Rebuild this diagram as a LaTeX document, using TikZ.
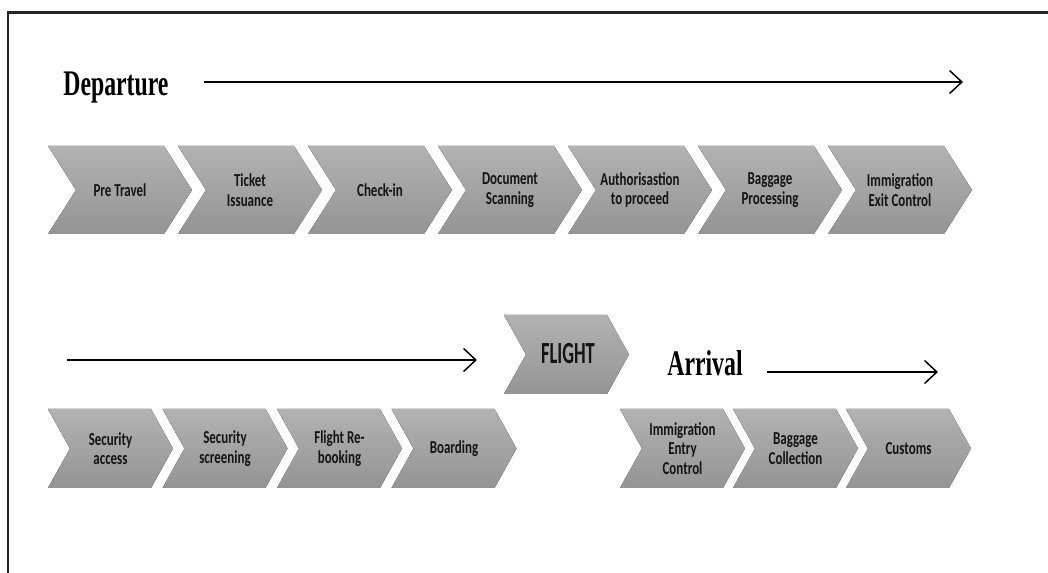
\documentclass[tikz,border=0pt]{standalone}
\usepackage{fontspec}
\usetikzlibrary{arrows.meta}

\definecolor{chevtop}{RGB}{178,178,178}
\definecolor{chevbot}{RGB}{148,148,148}
\definecolor{inkgray}{RGB}{20,20,20}

\newfontfamily\chevfont[FakeStretch=0.71]{Carlito}
\newfontfamily\flightfont[FakeStretch=0.6]{Carlito}
\newfontfamily\headfont[FakeStretch=0.66]{Liberation Serif}

\begin{document}
\begin{tikzpicture}[x=0.02cm, y=-0.02cm,
	chevron/.style={top color=chevtop, bottom color=chevbot, draw=none},
	steptext/.style={font=\chevfont\bfseries\fontsize{10.4}{11}\selectfont, text=inkgray, align=center, inner sep=0pt},
	heading/.style={font=\headfont\bfseries\fontsize{20.5}{24}\selectfont, text=black, anchor=base west, inner sep=0pt},
	timeline/.style={line width=0.85pt, -{Straight Barb[length=7pt,width=13pt]}},
	frame/.style={line width=1.3pt, draw=black!85}]

% parameters %{{{2

	\def\topy{146}
	\def\toph{88}
	\def\topw{144}
	\def\topd{28}
	\def\topstep{130}

	\def\boty{409}
	\def\both{79}
	\def\botw{125}
	\def\botd{22}
	\def\botstep{114.5}
	\def\arrstep{113}

% frame %{{{2

	\useasboundingbox (0,0) rectangle (1048,573);
	\draw[frame] (8,573) -- (8,12.5) -- (1048,12.5);

% departure, first row %{{{2

	\foreach \txt [count=\i] in {Pre Travel, {Ticket\\Issuance}, Check-in, {Document\\Scanning}, {Authorisastion\\to proceed}, {Baggage\\Processing}, {Immigration\\Exit Control}} {
		\pgfmathsetmacro{\x}{48+(\i-1)*\topstep}
		\fill[chevron] (\x,\topy) -- ++(\topw-\topd,0) -- ++(\topd,\toph/2) -- ++(-\topd,\toph/2)
			-- ++(-\topw+\topd,0) -- ++(\topd,-\toph/2) -- cycle;
		\node[steptext] (D\i) at (\x+\topw/2,\topy+\toph/2) {\txt};
	}

% departure, second row %{{{2

	\foreach \txt [count=\i] in {{Security\\access}, {Security\\screening}, {Flight Re-\\booking}, Boarding} {
		\pgfmathsetmacro{\x}{48+(\i-1)*\botstep}
		\fill[chevron] (\x,\boty) -- ++(\botw-\botd,0) -- ++(\botd,\both/2) -- ++(-\botd,\both/2)
			-- ++(-\botw+\botd,0) -- ++(\botd,-\both/2) -- cycle;
		\node[steptext] (S\i) at (\x+\botw/2,\boty+\both/2) {\txt};
	}

% flight %{{{2

	\fill[chevron] (504,315) -- ++(\botw-\botd,0) -- ++(\botd,\both/2) -- ++(-\botd,\both/2)
		-- ++(-\botw+\botd,0) -- ++(\botd,-\both/2) -- cycle;
	\node[steptext, font=\flightfont\bfseries\fontsize{17.5}{20}\selectfont] (F) at (568,354) {FLIGHT};

% arrival row %{{{2

	\foreach \txt [count=\i] in {{Immigration\\Entry\\Control}, {Baggage\\Collection}, Customs} {
		\pgfmathsetmacro{\x}{620+(\i-1)*\arrstep}
		\fill[chevron] (\x,\boty) -- ++(\botw-\botd,0) -- ++(\botd,\both/2) -- ++(-\botd,\both/2)
			-- ++(-\botw+\botd,0) -- ++(\botd,-\both/2) -- cycle;
		\node[steptext] (A\i) at (\x+\botw/2,\boty+\both/2) {\txt};
	}

% headings %{{{2

	\node[heading] (dep) at (63,96) {Departure};
	\node[heading] (arr) at (667,376) {Arrival};

% timelines %{{{2

	\coordinate (depS) at (204,82);
	\coordinate (depE) at (963,82);
	\coordinate (secS) at (67,360);
	\coordinate (secE) at (477,360);
	\coordinate (arrS) at (767,372);
	\coordinate (arrE) at (938,372);

	\draw[timeline] (depS) -- (depE);
	\draw[timeline] (secS) -- (secE);
	\draw[timeline] (arrS) -- (arrE);

% closing %{{{2

\end{tikzpicture}
\end{document}
